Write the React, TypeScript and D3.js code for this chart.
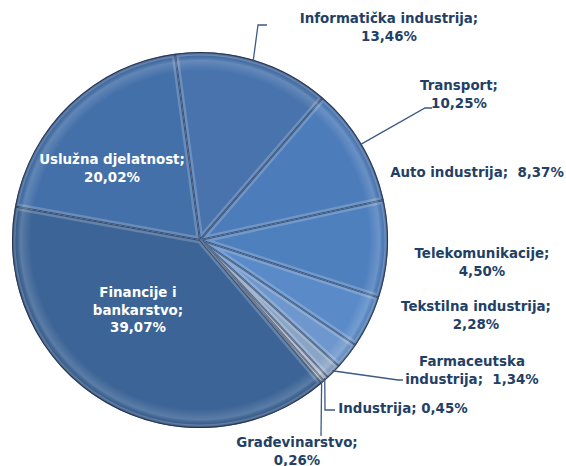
import React from "react";
import * as d3 from "d3";

const categories = [
  "Informatička industrija",
  "Transport",
  "Auto industrija",
  "Telekomunikacije",
  "Tekstilna industrija",
  "Farmaceutska industrija",
  "Industrija",
  "Građevinarstvo",
  "Financije i bankarstvo",
  "Uslužna djelatnost",
];
const values = [13.46, 10.25, 8.37, 4.5, 2.28, 1.34, 0.45, 0.26, 39.07, 20.02];
const valueLabels = ["13,46%", "10,25%", "8,37%", "4,50%", "2,28%", "1,34%", "0,45%", "0,26%", "39,07%", "20,02%"];
const colors = ["#4873ad", "#4d7cba", "#4f80be", "#5a8bc8", "#6e98cd", "#8aa4c6", "#a3b2c7", "#c3cbd6", "#3c6496", "#4470a9"];

type Lab = { lines: string[]; x: number; y: number; fill: string; leader?: [number, number][] };
const labels: Lab[] = [
  { lines: ["Informatička industrija;", "13,46%"], x: 389, y: 23, fill: "#233f66", leader: [[258, 25], [267, 25]] },
  { lines: ["Transport;", "10,25%"], x: 459, y: 90, fill: "#233f66", leader: [[425, 108], [432, 108]] },
  { lines: ["Auto industrija;  8,37%"], x: 477, y: 177, fill: "#233f66" },
  { lines: ["Telekomunikacije;", "4,50%"], x: 482, y: 258, fill: "#233f66" },
  { lines: ["Tekstilna industrija;", "2,28%"], x: 476, y: 311, fill: "#233f66" },
  { lines: ["Farmaceutska", "industrija;  1,34%"], x: 472, y: 366, fill: "#233f66", leader: [[398, 380], [403, 380]] },
  { lines: ["Industrija; 0,45%"], x: 403, y: 413, fill: "#233f66", leader: [[325, 410], [335, 410]] },
  { lines: ["Građevinarstvo;", "0,26%"], x: 297, y: 447, fill: "#233f66", leader: [[321, 436]] },
  { lines: ["Financije i", "bankarstvo;", "39,07%"], x: 138, y: 297, fill: "#ffffff" },
  { lines: ["Uslužna djelatnost;", "20,02%"], x: 112, y: 164, fill: "#ffffff" },
];

const cx = 200;
const cy = 240;
const R = 188;
const start = (-7.65 * Math.PI) / 180;

export default function App() {
  const pie = d3
    .pie<number>()
    .sort(null)
    .startAngle(start)
    .endAngle(start + 2 * Math.PI)
    .value((d) => d);
  const arcs = pie(values);
  const arc = d3.arc<d3.PieArcDatum<number>>().innerRadius(0).outerRadius(R);
  const lineH = 17.5;

  return (
    <svg width={566} height={466} style={{ position: "absolute", left: 0, top: 0 }}>
      <defs>
        <radialGradient id="rim" cx={cx} cy={cy} r={R} gradientUnits="userSpaceOnUse">
          <stop offset="0.9" stopColor="#ffffff" stopOpacity={0} />
          <stop offset="0.955" stopColor="#ffffff" stopOpacity={0.16} />
          <stop offset="0.985" stopColor="#000000" stopOpacity={0.05} />
          <stop offset="1" stopColor="#000020" stopOpacity={0.45} />
        </radialGradient>
        {arcs.map((a, i) => (
          <clipPath id={`clip${i}`} key={i}>
            <path d={arc(a) || ""} transform={`translate(${cx},${cy})`} />
          </clipPath>
        ))}
      </defs>
      <g transform={`translate(${cx},${cy})`}>
        {arcs.map((a, i) => (
          <path key={i} d={arc(a) || ""} fill={colors[i]} />
        ))}
      </g>
      {arcs.map((a, i) => (
        <g key={i} clipPath={`url(#clip${i})`}>
          <path
            d={arc(a) || ""}
            transform={`translate(${cx},${cy})`}
            fill="none"
            stroke="#ffffff"
            strokeOpacity={0.2}
            strokeWidth={7}
          />
          <path
            d={arc(a) || ""}
            transform={`translate(${cx},${cy})`}
            fill="none"
            stroke="#0a1a3a"
            strokeOpacity={0.5}
            strokeWidth={2}
          />
        </g>
      ))}
      <circle cx={cx} cy={cy} r={R} fill="url(#rim)" />
      {labels.map((l, i) => {
        if (!l.leader) return null;
        const a = arcs[i];
        const mid = (a.startAngle + a.endAngle) / 2;
        const p0: [number, number] = [cx + Math.sin(mid) * (R - 2), cy - Math.cos(mid) * (R - 2)];
        const pts = [p0, ...l.leader];
        return (
          <polyline
            key={i}
            points={pts.map((p) => p.join(",")).join(" ")}
            fill="none"
            stroke="#3b5a85"
            strokeWidth={1.3}
          />
        );
      })}
      {labels.map((l, i) => (
        <text
          key={i}
          x={l.x}
          y={l.y}
          textAnchor="middle"
          fill={l.fill}
          fontFamily="DejaVu Sans, Verdana, sans-serif"
          fontWeight="bold"
          fontSize={13.4}
        >
          {l.lines.map((t, j) => (
            <tspan key={j} x={l.x} dy={j === 0 ? 0 : lineH} xmlSpace="preserve">
              {t}
            </tspan>
          ))}
        </text>
      ))}
    </svg>
  );
}
